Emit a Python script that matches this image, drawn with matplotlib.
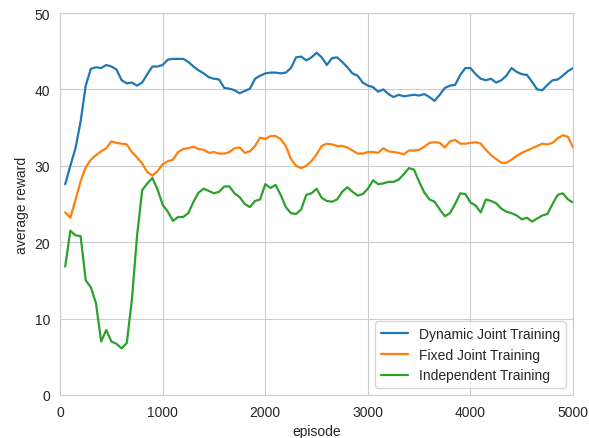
import numpy as np
import matplotlib
matplotlib.use("Agg")
import matplotlib.pyplot as plt
import seaborn as sns

# episodes, every 50
episodes = np.arange(50, 5001, 50)

dynamic_joint = [
    27.6, 30.0, 32.3, 35.8, 40.5, 42.7, 42.9, 42.8, 43.2, 43.0,
    42.6, 41.2, 40.8, 40.9, 40.5, 40.9, 42.0, 43.0, 43.0, 43.2,
    43.9, 44.0, 44.0, 44.0, 43.6, 43.0, 42.5, 42.1, 41.6, 41.4,
    41.3, 40.2, 40.1, 39.9, 39.5, 39.8, 40.1, 41.4, 41.8, 42.1,
    42.2, 42.2, 42.1, 42.2, 42.8, 44.2, 44.3, 43.8, 44.2, 44.8,
    44.2, 43.2, 44.1, 44.2, 43.6, 42.9, 42.1, 41.8, 40.9, 40.5,
    40.3, 39.7, 40.0, 39.4, 39.0, 39.3, 39.1, 39.2, 39.3, 39.2,
    39.4, 39.0, 38.5, 39.3, 40.2, 40.5, 40.6, 41.9, 42.8, 42.8,
    42.0, 41.4, 41.2, 41.4, 40.9, 41.2, 41.8, 42.8, 42.3, 42.0,
    41.9, 41.0, 40.0, 39.9, 40.6, 41.2, 41.3, 41.8, 42.4, 42.8,
]

fixed_joint = [
    23.9, 23.2, 25.5, 28.0, 29.8, 30.8, 31.4, 31.9, 32.3, 33.2,
    33.0, 32.9, 32.8, 31.8, 31.1, 30.3, 29.2, 28.7, 29.3, 30.2,
    30.6, 30.8, 31.8, 32.2, 32.3, 32.5, 32.2, 32.1, 31.7, 31.8,
    31.6, 31.6, 31.8, 32.3, 32.4, 31.7, 31.9, 32.6, 33.7, 33.5,
    33.9, 33.9, 33.5, 32.6, 30.9, 30.0, 29.7, 30.0, 30.6, 31.5,
    32.6, 32.9, 32.8, 32.6, 32.6, 32.4, 32.0, 31.6, 31.6, 31.8,
    31.8, 31.7, 32.3, 31.9, 31.8, 31.7, 31.5, 32.0, 32.0, 32.1,
    32.5, 33.0, 33.1, 33.0, 32.4, 33.2, 33.4, 32.9, 32.9, 33.0,
    33.1, 32.9, 32.1, 31.4, 30.9, 30.4, 30.4, 30.8, 31.3, 31.7,
    32.0, 32.3, 32.6, 32.9, 32.8, 33.0, 33.6, 34.0, 33.8, 32.4,
]

independent = [
    16.8, 21.5, 20.9, 20.8, 15.0, 14.1, 12.0, 7.0, 8.5, 7.0,
    6.7, 6.1, 6.8, 12.5, 20.8, 26.8, 27.7, 28.4, 26.9, 24.9,
    24.0, 22.8, 23.3, 23.3, 23.8, 25.3, 26.5, 27.0, 26.7, 26.4,
    26.6, 27.3, 27.3, 26.4, 25.9, 25.0, 24.6, 25.4, 25.6, 27.6,
    27.1, 27.5, 26.2, 24.6, 23.8, 23.7, 24.3, 26.2, 26.4, 27.0,
    25.8, 25.4, 25.3, 25.6, 26.6, 27.2, 26.6, 26.1, 26.3, 27.0,
    28.1, 27.6, 27.7, 27.9, 27.9, 28.2, 28.9, 29.7, 29.5, 27.9,
    26.5, 25.6, 25.3, 24.3, 23.4, 23.8, 25.0, 26.4, 26.3, 25.2,
    24.8, 23.9, 25.6, 25.4, 25.1, 24.4, 24.0, 23.8, 23.5, 23.0,
    23.2, 22.7, 23.1, 23.5, 23.7, 25.0, 26.2, 26.4, 25.6, 25.2,
]

sns.set_style("whitegrid")
plt.rcParams['font.family'] = ['Liberation Sans', 'DejaVu Sans']

fig = plt.figure(figsize=(5.89, 4.39), dpi=100)
ax = fig.add_axes([0.102, 0.098, 0.871, 0.870])

ax.plot(episodes, dynamic_joint, color="#1f77b4", lw=1.6, label="Dynamic Joint Training")
ax.plot(episodes, fixed_joint, color="#ff7f0e", lw=1.6, label="Fixed Joint Training")
ax.plot(episodes, independent, color="#2ca02c", lw=1.6, label="Independent Training")

ax.set_xlim(0, 5000)
ax.set_ylim(0, 50)
ax.set_xticks([0, 1000, 2000, 3000, 4000, 5000])
ax.set_yticks([0, 10, 20, 30, 40, 50])
ax.tick_params(labelsize=10, colors=".15")
ax.set_xlabel("episode", fontsize=10, color=".15")
ax.set_ylabel("average reward", fontsize=10, color=".15")
ax.legend(loc="lower right", fontsize=10, frameon=True)

fig.savefig("out.png", dpi=100)
